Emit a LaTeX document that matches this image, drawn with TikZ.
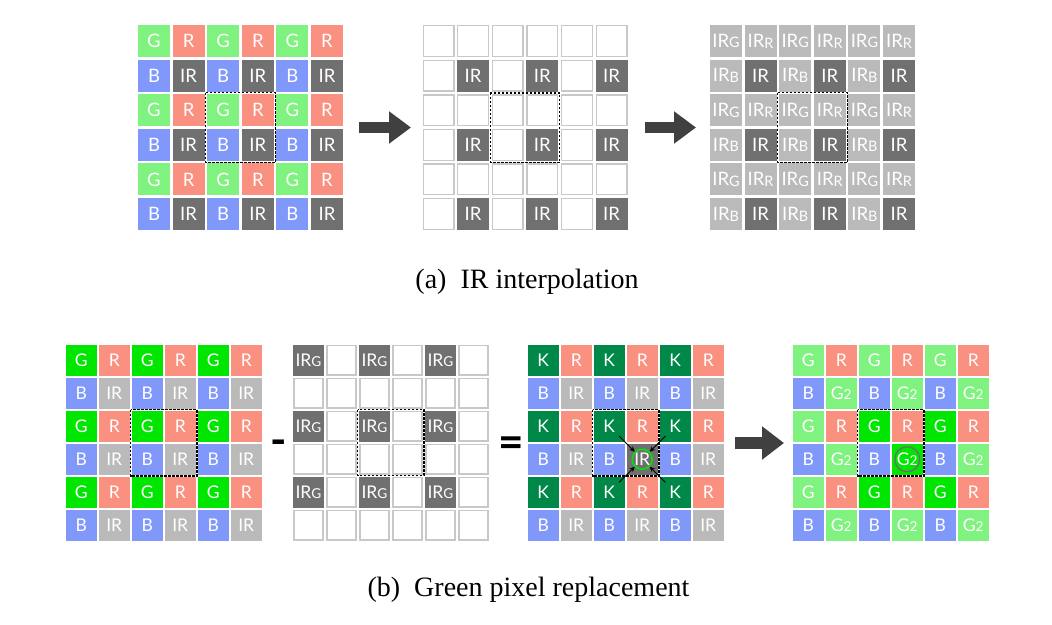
\documentclass[tikz,border=0pt]{standalone}
\usepackage{fontspec}
\setmainfont{Liberation Serif}
\setsansfont{Lato}
\usetikzlibrary{arrows.meta,calc}

\definecolor{gcol}{RGB}{128,242,128}
\definecolor{ggcol}{RGB}{0,230,0}
\definecolor{rcol}{RGB}{250,144,128}
\definecolor{bcol}{RGB}{128,152,250}
\definecolor{ircol}{RGB}{112,112,112}
\definecolor{ilcol}{RGB}{186,186,186}
\definecolor{kcol}{RGB}{0,136,72}
\definecolor{edgecol}{RGB}{200,200,200}
\definecolor{arrowcol}{RGB}{64,64,64}
\definecolor{ringcol}{RGB}{110,110,110}

\newcommand\csz{32pt}
\newcommand\cfs{18.5}
\newcommand\subl[1]{\raisebox{-0.8pt}{\scalebox{0.78}{#1}}}

\tikzset{
  cell/.style = {minimum size=\csz, inner sep=0pt, text=white,
    font=\sffamily\fontsize{\cfs}{\cfs}\selectfont},
  cg/.style = {cell, fill=gcol},
  cgg/.style = {cell, fill=ggcol},
  cr/.style = {cell, fill=rcol},
  cb/.style = {cell, fill=bcol},
  cir/.style = {cell, fill=ircol},
  cil/.style = {cell, fill=ilcol},
  ck/.style = {cell, fill=kcol},
  ce/.style = {cell, fill=white, draw=edgecol, line width=1.3pt, minimum size=\csz-1.3pt},
  dashbox/.style = {draw=black, line width=1.2pt, dash pattern=on 2.5pt off 1.5pt},
  blockarrow/.style = {draw=arrowcol, line width=11pt, -{Triangle[length=22pt,width=31pt]}},
  smallarrow/.style = {-{Stealth[length=5.5pt,width=5pt]}, line width=0.9pt, shorten <=14pt, shorten >=10.5pt},
  opsign/.style = {font=\sffamily\bfseries\fontsize{44}{44}\selectfont, inner sep=0pt},
  caption/.style = {font=\fontsize{28}{30}\selectfont, anchor=base, inner sep=0pt}
}

\begin{document}
\begin{tikzpicture}[x=1pt, y=-1pt]
\useasboundingbox (0,0) rectangle (1052,624);

% (a) top row
\foreach \cells [count=\i] in {{cg/G,cr/R,cg/G,cr/R,cg/G,cr/R},{cb/B,cir/IR,cb/B,cir/IR,cb/B,cir/IR},
    {cg/G,cr/R,cg/G,cr/R,cg/G,cr/R},{cb/B,cir/IR,cb/B,cir/IR,cb/B,cir/IR},
    {cg/G,cr/R,cg/G,cr/R,cg/G,cr/R},{cb/B,cir/IR,cb/B,cir/IR,cb/B,cir/IR}}
  \foreach \st/\lb [count=\j] in \cells
    \node[\st] (tl\i\j) at ({154+34.6*(\j-1)},{41+34.6*(\i-1)}) {\lb};

\foreach \cells [count=\i] in {{ce/{},ce/{},ce/{},ce/{},ce/{},ce/{}},{ce/{},cir/IR,ce/{},cir/IR,ce/{},cir/IR},
    {ce/{},ce/{},ce/{},ce/{},ce/{},ce/{}},{ce/{},cir/IR,ce/{},cir/IR,ce/{},cir/IR},
    {ce/{},ce/{},ce/{},ce/{},ce/{},ce/{}},{ce/{},cir/IR,ce/{},cir/IR,ce/{},cir/IR}}
  \foreach \st/\lb [count=\j] in \cells
    \node[\st] (tm\i\j) at ({438.5+34.6*(\j-1)},{41+34.6*(\i-1)}) {\lb};

\foreach \cells [count=\i] in {{cil/IR\subl{G},cil/IR\subl{R},cil/IR\subl{G},cil/IR\subl{R},cil/IR\subl{G},cil/IR\subl{R}},
    {cil/IR\subl{B},cir/IR,cil/IR\subl{B},cir/IR,cil/IR\subl{B},cir/IR},
    {cil/IR\subl{G},cil/IR\subl{R},cil/IR\subl{G},cil/IR\subl{R},cil/IR\subl{G},cil/IR\subl{R}},
    {cil/IR\subl{B},cir/IR,cil/IR\subl{B},cir/IR,cil/IR\subl{B},cir/IR},
    {cil/IR\subl{G},cil/IR\subl{R},cil/IR\subl{G},cil/IR\subl{R},cil/IR\subl{G},cil/IR\subl{R}},
    {cil/IR\subl{B},cir/IR,cil/IR\subl{B},cir/IR,cil/IR\subl{B},cir/IR}}
  \foreach \st/\lb [count=\j] in \cells
    \node[\st] (tr\i\j) at ({726+34.6*(\j-1)},{41+34.6*(\i-1)}) {\lb};

\foreach \g in {tl,tm,tr}
  \draw[dashbox] ($(\g33.north west)+(-1.3pt,1.3pt)$) rectangle ($(\g44.south east)+(1.3pt,-1.3pt)$);

\coordinate (a1s) at (359,127.5);
\coordinate (a1e) at (411,127.5);
\coordinate (a2s) at (645,127.5);
\coordinate (a2e) at (696,127.5);
\draw[blockarrow] (a1s) -- (a1e);
\draw[blockarrow] (a2s) -- (a2e);

\node[caption] (capa) at (527,288) {(a)\enspace IR interpolation};

% (b) bottom row
\begin{scope}
\def\csz{30.5pt}
\def\cfs{17.5}
\foreach \cells [count=\i] in {{cgg/G,cr/R,cgg/G,cr/R,cgg/G,cr/R},{cb/B,cil/IR,cb/B,cil/IR,cb/B,cil/IR},
    {cgg/G,cr/R,cgg/G,cr/R,cgg/G,cr/R},{cb/B,cil/IR,cb/B,cil/IR,cb/B,cil/IR},
    {cgg/G,cr/R,cgg/G,cr/R,cgg/G,cr/R},{cb/B,cil/IR,cb/B,cil/IR,cb/B,cil/IR}}
  \foreach \st/\lb [count=\j] in \cells
    \node[\st] (bl\i\j) at ({81.25+33*(\j-1)},{360.25+33*(\i-1)}) {\lb};

\foreach \cells [count=\i] in {{cir/IR\subl{G},ce/{},cir/IR\subl{G},ce/{},cir/IR\subl{G},ce/{}},{ce/{},ce/{},ce/{},ce/{},ce/{},ce/{}},
    {cir/IR\subl{G},ce/{},cir/IR\subl{G},ce/{},cir/IR\subl{G},ce/{}},{ce/{},ce/{},ce/{},ce/{},ce/{},ce/{}},
    {cir/IR\subl{G},ce/{},cir/IR\subl{G},ce/{},cir/IR\subl{G},ce/{}},{ce/{},ce/{},ce/{},ce/{},ce/{},ce/{}}}
  \foreach \st/\lb [count=\j] in \cells
    \node[\st] (bm\i\j) at ({308.5+33*(\j-1)},{360.25+33*(\i-1)}) {\lb};

\foreach \cells [count=\i] in {{ck/K,cr/R,ck/K,cr/R,ck/K,cr/R},{cb/B,cil/IR,cb/B,cil/IR,cb/B,cil/IR},
    {ck/K,cr/R,ck/K,cr/R,ck/K,cr/R},{cb/B,cil/IR,cb/B,cir/IR,cb/B,cil/IR},
    {ck/K,cr/R,ck/K,cr/R,ck/K,cr/R},{cb/B,cil/IR,cb/B,cil/IR,cb/B,cil/IR}}
  \foreach \st/\lb [count=\j] in \cells
    \node[\st] (bk\i\j) at ({543.25+33*(\j-1)},{360.25+33*(\i-1)}) {\lb};

\foreach \cells [count=\i] in {{cg/G,cr/R,cg/G,cr/R,cg/G,cr/R},{cb/B,cg/G\subl{2},cb/B,cg/G\subl{2},cb/B,cg/G\subl{2}},
    {cg/G,cr/R,cgg/G,cr/R,cgg/G,cr/R},{cb/B,cg/G\subl{2},cb/B,cgg/G\subl{2},cb/B,cg/G\subl{2}},
    {cg/G,cr/R,cgg/G,cr/R,cgg/G,cr/R},{cb/B,cg/G\subl{2},cb/B,cg/G\subl{2},cb/B,cg/G\subl{2}}}
  \foreach \st/\lb [count=\j] in \cells
    \node[\st] (bf\i\j) at ({808.25+33*(\j-1)},{360.25+33*(\i-1)}) {\lb};
\end{scope}

\foreach \g in {bl,bm,bk,bf}
  \draw[dashbox] ($(\g33.north west)+(-1.2pt,1.2pt)$) rectangle ($(\g44.south east)+(1.2pt,-1.2pt)$);

% neighbours of the centre IR pixel
\foreach \k in {33,35,53,55}
  \draw[smallarrow] (bk\k.center) -- (bk44.center);
\draw[draw=ggcol, line width=1.5pt] (bk44) circle (10pt);
\draw[draw=ringcol, line width=1.3pt] (bf44) circle (12.5pt);

\node[opsign] (minus) at (278.5,448) {-};
\node[opsign] (equals) at (511,447) {=};

\coordinate (a3s) at (735,443);
\coordinate (a3e) at (784,443);
\draw[blockarrow, line width=12pt, -{Triangle[length=22pt,width=32pt]}] (a3s) -- (a3e);

\node[caption] (capb) at (528.5,596) {(b)\enspace Green pixel replacement};
\end{tikzpicture}
\end{document}
